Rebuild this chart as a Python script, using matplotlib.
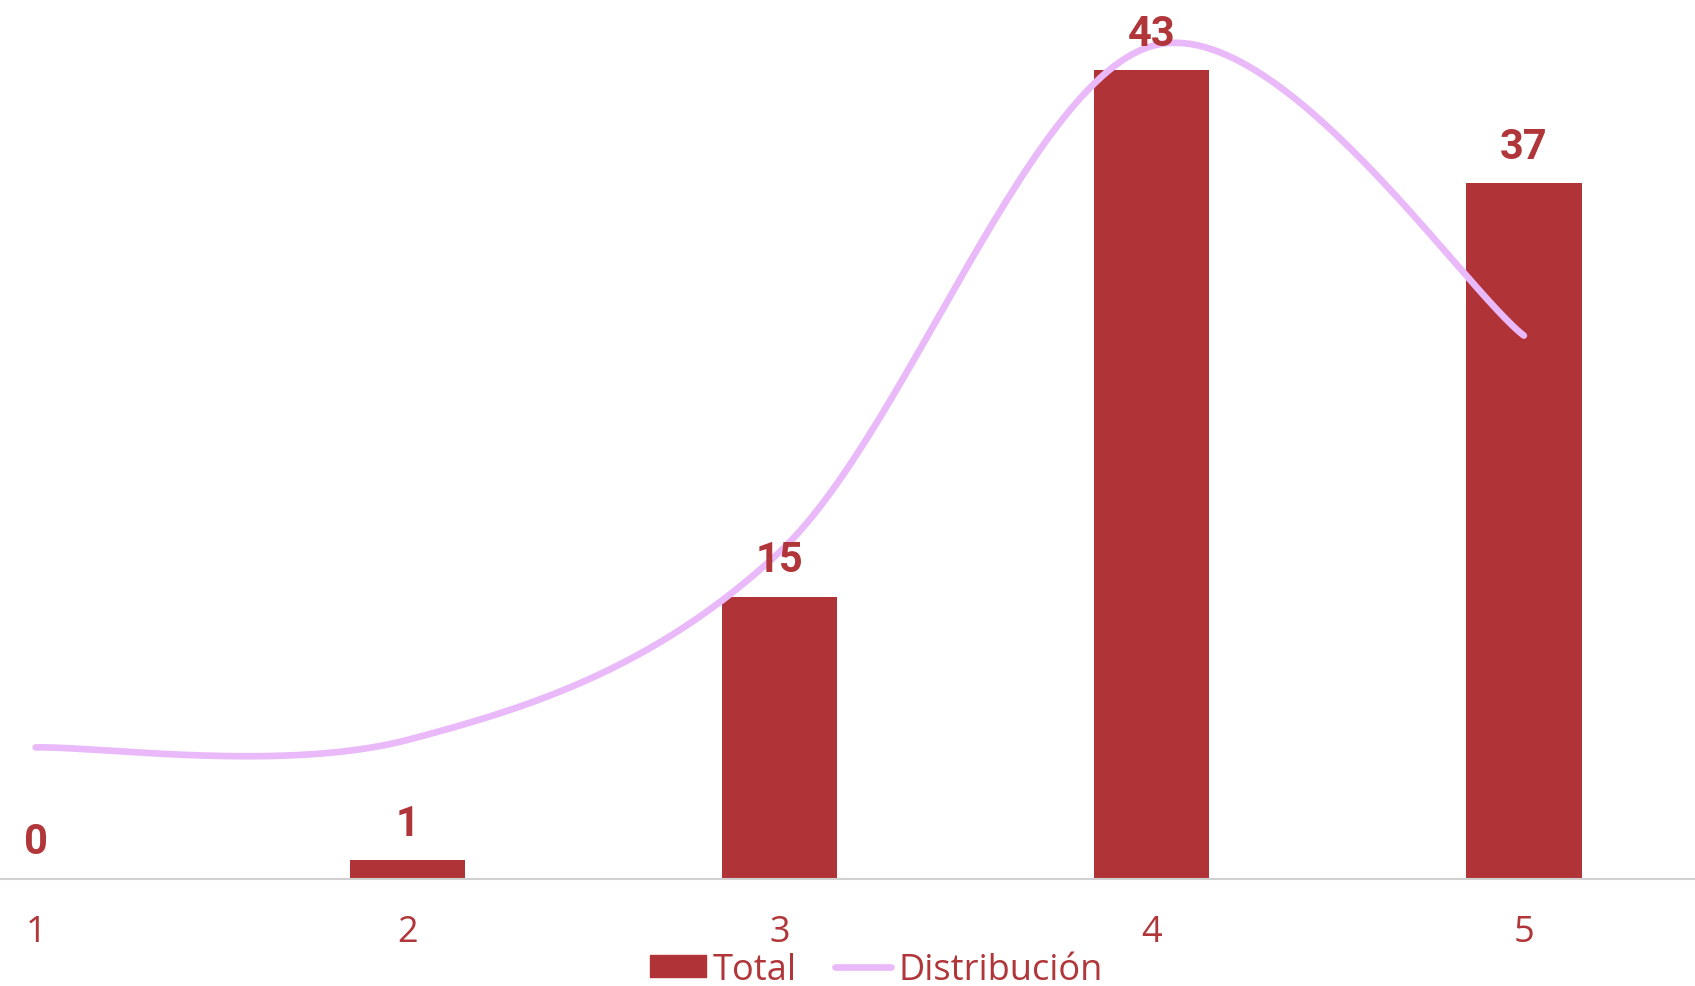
import numpy as np
import matplotlib.pyplot as plt
from matplotlib.lines import Line2D
from matplotlib.patches import Patch

# Data
categories = [1, 2, 3, 4, 5]
totals = [0, 1, 15, 43, 37]
distribution = [7.0, 7.4, 17.4, 44.3, 28.9]

bar_color = '#B03437'
line_color = '#E9B9F9'
text_color = '#B0363A'


def smooth_curve(x, y, n=60):
    # Catmull-Rom style smoothing via cubic Bezier segments (like spreadsheet smoothed lines)
    x = np.asarray(x, float)
    y = np.asarray(y, float)
    px = np.concatenate([[x[0]], x, [x[-1]]])
    py = np.concatenate([[y[0]], y, [y[-1]]])
    xs, ys = [], []
    t = np.linspace(0, 1, n)[:, None]
    for i in range(1, len(px) - 2):
        p0 = np.array([px[i], py[i]])
        p3 = np.array([px[i + 1], py[i + 1]])
        c1 = p0 + (np.array([px[i + 1], py[i + 1]]) - np.array([px[i - 1], py[i - 1]])) / 6
        c2 = p3 - (np.array([px[i + 2], py[i + 2]]) - np.array([px[i], py[i]])) / 6
        pts = ((1 - t) ** 3) * p0 + 3 * ((1 - t) ** 2) * t * c1 + 3 * (1 - t) * t ** 2 * c2 + t ** 3 * p3
        xs.append(pts[:, 0])
        ys.append(pts[:, 1])
    return np.concatenate(xs), np.concatenate(ys)


fig = plt.figure(figsize=(16.95, 9.87), dpi=100)
ax = fig.add_axes([0, 0.1084, 1, 0.8916])

ax.bar(categories, totals, width=0.31, color=bar_color, zorder=2)
sx, sy = smooth_curve(categories, distribution)
ax.plot(sx, sy, color=line_color, lw=4.8, solid_capstyle='round', zorder=3)

for c, v in zip(categories, totals):
    ax.annotate(str(v), (c, v), xytext=(0, 12), textcoords='offset points',
                ha='center', va='bottom', fontsize=30, fontweight='bold',
                color=text_color, family='Roboto')

ax.set_xlim(0.904, 5.46)
ax.set_ylim(0, 46.8)
ax.set_yticks([])
ax.set_xticks(categories)
ax.set_xticklabels([str(c) for c in categories], fontsize=26, color=text_color,
                   family='Open Sans')
ax.tick_params(axis='x', length=0, pad=25)
for s in ['top', 'right', 'left']:
    ax.spines[s].set_visible(False)
ax.spines['bottom'].set_color('#D0D0D0')
ax.spines['bottom'].set_linewidth(1.5)

handles = [Patch(color=bar_color, label='Total'),
           Line2D([0], [0], color=line_color, lw=4.8, solid_capstyle='round', label='Distribución')]
fig.legend(handles=handles, loc='center', bbox_to_anchor=(0.517, 0.0165), ncol=2,
           frameon=False, handlelength=1.55, handleheight=0.6, handletextpad=0.2,
           columnspacing=1.05, borderpad=0.1,
           prop={'family': 'Open Sans', 'size': 26}, labelcolor=text_color)

fig.savefig('out.png', dpi=100)
